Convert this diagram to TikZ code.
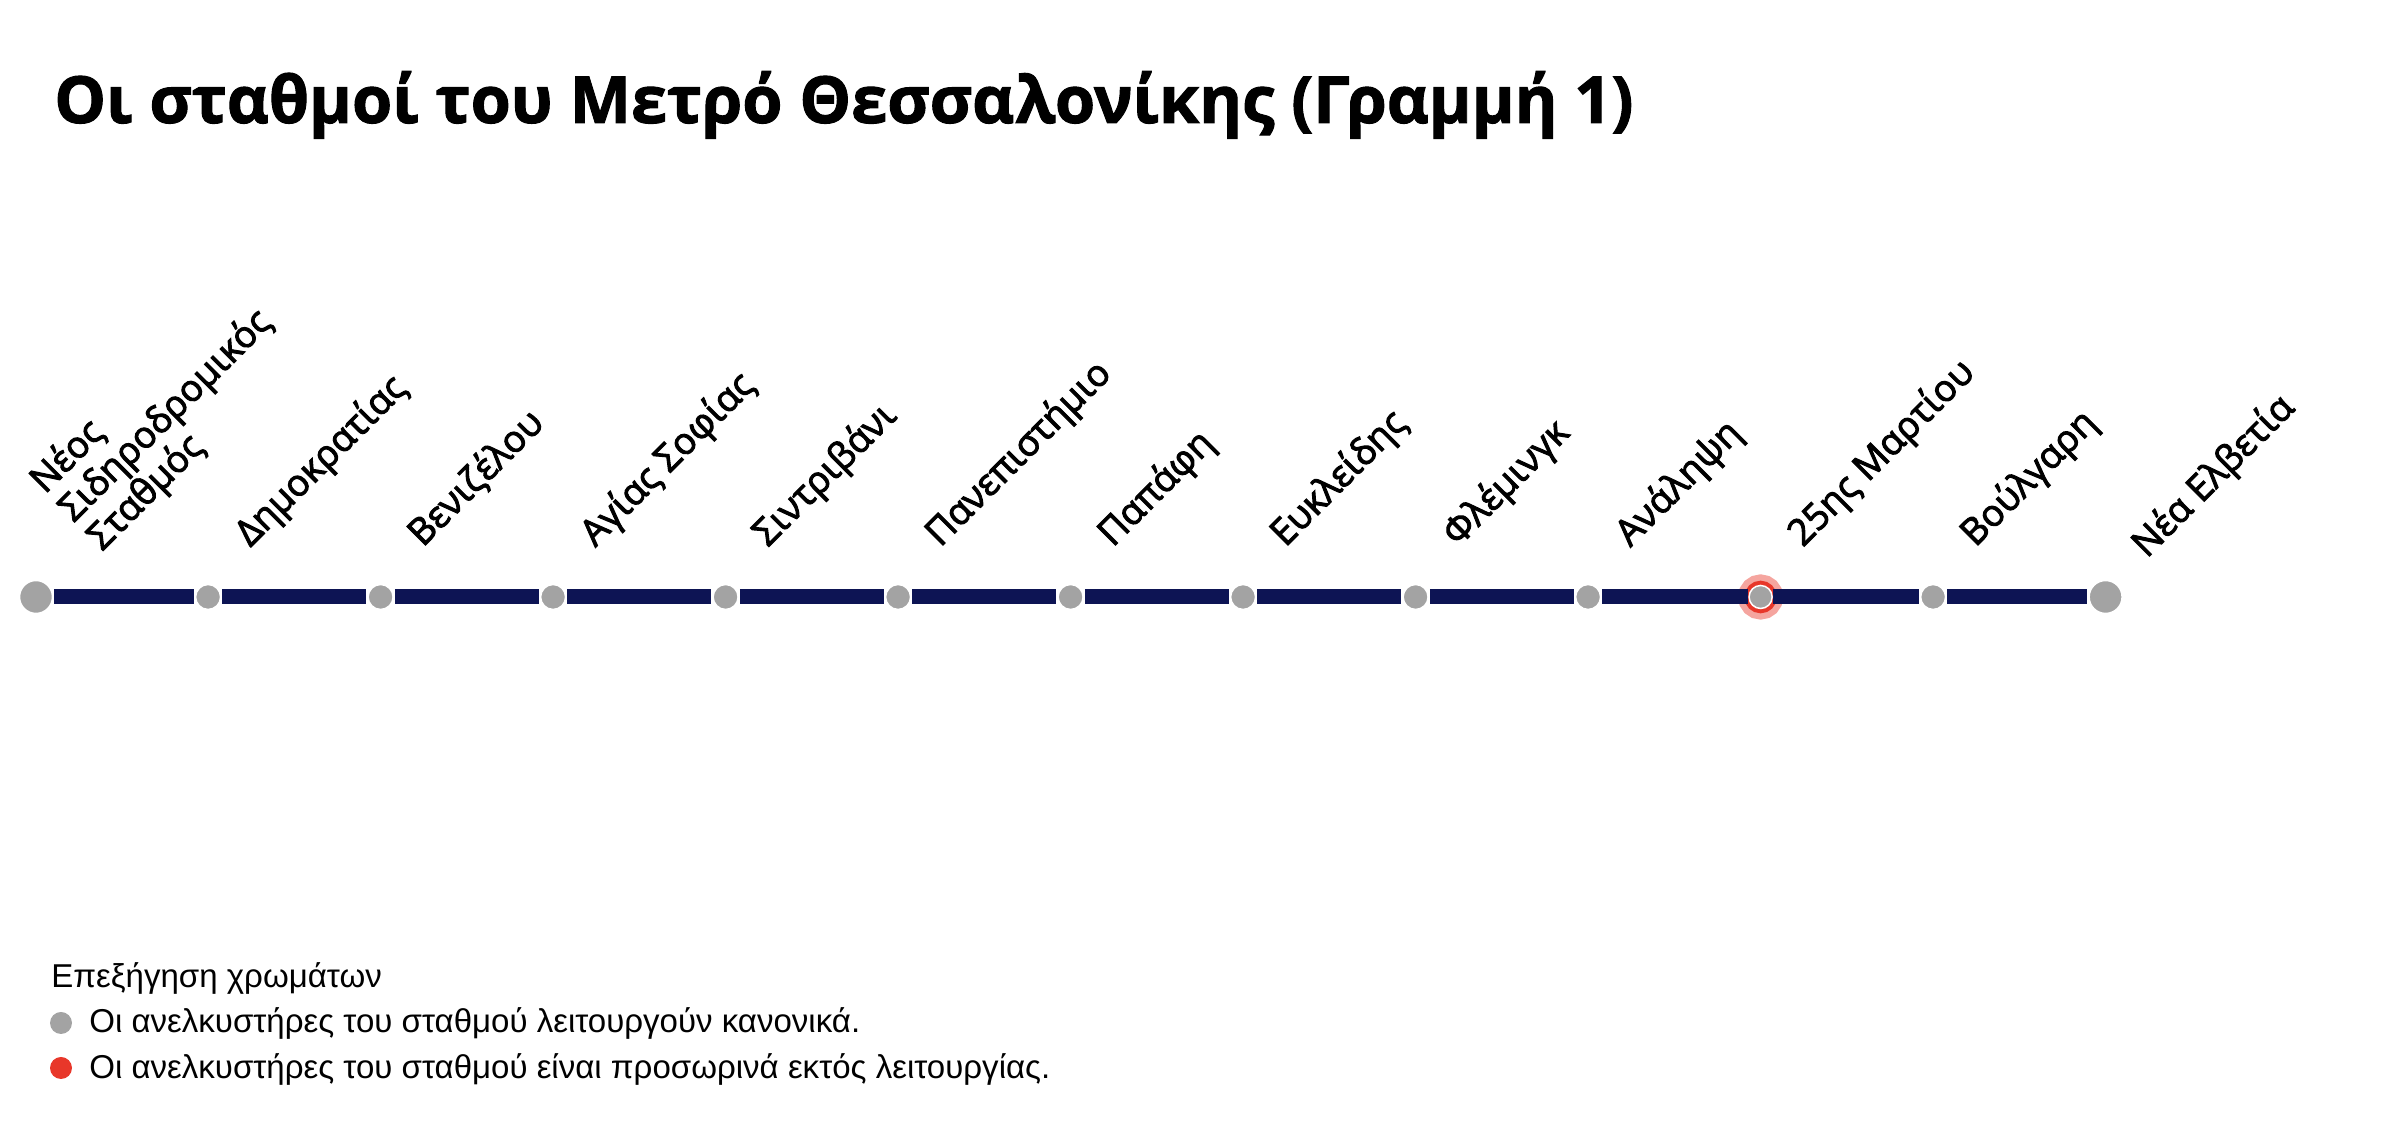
\documentclass[tikz,border=0pt]{standalone}
\usepackage{fontspec}
\setmainfont{Open Sans}[BoldFeatures={FakeBold=1.5}]
\newfontfamily\labelfont{Open Sans}[FakeBold=2.6]
\newfontfamily\legendfont{Liberation Sans}
\usepackage{tikz}
\usetikzlibrary{positioning}
\definecolor{LineNavy}{HTML}{0D1454}
\definecolor{StopGrey}{HTML}{A3A3A3}
\definecolor{AlertRed}{HTML}{E8372A}

\begin{document}
\begin{tikzpicture}[x=0.2mm, y=0.2mm,
    stop/.style={circle, fill=StopGrey, draw=white, line width=0.5mm, minimum size=5.2mm, inner sep=0pt},
    endstop/.style={stop, minimum size=6.8mm},
    closedstop/.style={stop, minimum size=4.6mm, line width=0.3mm, preaction={draw=AlertRed!45, line width=4.4mm}, preaction={draw=AlertRed, line width=1.9mm}},
    stoplabel/.style={rotate=45, anchor=base west, inner sep=0pt, align=left, font=\labelfont\fontsize{21}{23}\selectfont},
    metroline/.style={LineNavy, line width=3mm},
    legenddot/.style={circle, minimum size=4.4mm, inner sep=0pt},
    legendtext/.style={anchor=base west, inner sep=0pt, font=\legendfont\fontsize{18.8}{22}\selectfont}
  ]
  \useasboundingbox (0,0) rectangle (2402,1148);

  \node[anchor=base west, inner sep=0pt, font=\bfseries\fontsize{37}{44}\selectfont] (title) at (54,1025) {Οι σταθμοί του Μετρό Θεσσαλονίκης (Γραμμή 1)};

  % stations
  \node[endstop] (st1) at (36,551) {};
  \node[stop] (st2) at (208.1,551) {};
  \node[stop] (st3) at (380.6,551) {};
  \node[stop] (st4) at (553.1,551) {};
  \node[stop] (st5) at (725.6,551) {};
  \node[stop] (st6) at (898.1,551) {};
  \node[stop] (st7) at (1070.6,551) {};
  \node[stop] (st8) at (1243.1,551) {};
  \node[stop] (st9) at (1415.6,551) {};
  \node[stop] (st10) at (1588.1,551) {};
  \node[closedstop] (st11) at (1760.6,551) {};
  \node[stop] (st12) at (1933.1,551) {};
  \node[endstop] (st13) at (2105.6,551) {};

  \draw[metroline] (st1) -- (st2);
  \draw[metroline] (st2) -- (st3);
  \draw[metroline] (st3) -- (st4);
  \draw[metroline] (st4) -- (st5);
  \draw[metroline] (st5) -- (st6);
  \draw[metroline] (st6) -- (st7);
  \draw[metroline] (st7) -- (st8);
  \draw[metroline] (st8) -- (st9);
  \draw[metroline] (st9) -- (st10);
  \draw[metroline] (st10) -- (st11);
  \draw[metroline] (st11) -- (st12);
  \draw[metroline] (st12) -- (st13);

  % station names
  \node[stoplabel] (lab1) at ([shift={(66,45)}]st1.center) {Νέος\\Σιδηροδρομικός\\Σταθμός};
  \node[stoplabel] (lab2) at ([shift={(42,49)}]st2.center) {Δημοκρατίας};
  \node[stoplabel] (lab3) at ([shift={(42,49)}]st3.center) {Βενιζέλου};
  \node[stoplabel] (lab4) at ([shift={(42,49)}]st4.center) {Αγίας Σοφίας};
  \node[stoplabel] (lab5) at ([shift={(42,49)}]st5.center) {Σιντριβάνι};
  \node[stoplabel] (lab6) at ([shift={(42,49)}]st6.center) {Πανεπιστήμιο};
  \node[stoplabel] (lab7) at ([shift={(42,49)}]st7.center) {Παπάφη};
  \node[stoplabel] (lab8) at ([shift={(42,49)}]st8.center) {Ευκλείδης};
  \node[stoplabel] (lab9) at ([shift={(42,49)}]st9.center) {Φλέμινγκ};
  \node[stoplabel] (lab10) at ([shift={(42,49)}]st10.center) {Ανάληψη};
  \node[stoplabel] (lab11) at ([shift={(42,49)}]st11.center) {25ης Μαρτίου};
  \node[stoplabel] (lab12) at ([shift={(42,49)}]st12.center) {Βούλγαρη};
  \node[stoplabel] (lab13) at ([shift={(41,38)}]st13.center) {Νέα Ελβετία};

  % legend
  \node[legendtext] (legtitle) at (51,160) {Επεξήγηση χρωμάτων};
  \node[legenddot, fill=StopGrey] (dotok) at (61,125) {};
  \node[legendtext] (legok) at (89,115) {Οι ανελκυστήρες του σταθμού λειτουργούν κανονικά.};
  \node[legenddot, fill=AlertRed] (dotout) at (61,80) {};
  \node[legendtext] (legout) at (89,69) {Οι ανελκυστήρες του σταθμού είναι προσωρινά εκτός λειτουργίας.};
\end{tikzpicture}
\end{document}
